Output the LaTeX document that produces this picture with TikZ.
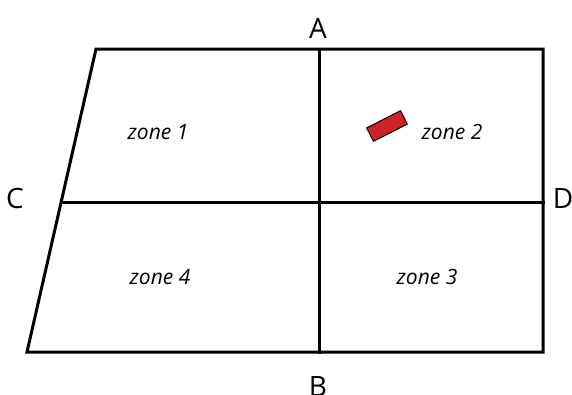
\documentclass[tikz,border=0pt]{standalone}
\usepackage{fontspec}
\setmainfont{Open Sans}
\begin{document}
\begin{tikzpicture}[x=1pt,y=-1pt,
  edge/.style={line width=3pt,line cap=rect},
  zonelabel/.style={font=\fontsize{21}{23}\selectfont\itshape},
  letter/.style={font=\fontsize{28}{30}\selectfont}]
\useasboundingbox (0,0) rectangle (572,394);
\coordinate (tl) at (96,49);
\coordinate (tr) at (543,49);
\coordinate (br) at (543,352);
\coordinate (bl) at (27,352);
\coordinate (mt) at (319,49);
\coordinate (mb) at (319,352);
\coordinate (ml) at (61.2,202);
\coordinate (mr) at (543,202);
\draw[edge,line join=miter] (tl) -- (tr) -- (br) -- (bl) -- cycle;
\draw[edge] (mt) -- (mb);
\draw[edge] (ml) -- (mr);
\node[letter] (A) at (318,28) {A};
\node[letter] (B) at (318,386) {B};
\node[letter] (C) at (15,198) {C};
\node[letter] (D) at (563,199) {D};
\node[zonelabel] (z1) at (158,132) {zone 1};
\node[zonelabel] (z2) at (452,132) {zone 2};
\node[zonelabel] (z4) at (160,277) {zone 4};
\node[zonelabel] (z3) at (427,277) {zone 3};
\node[draw=black,line width=1pt,fill={rgb,255:red,204;green,34;blue,41},minimum width=38pt,minimum height=15pt,rotate=27,inner sep=0pt] (rect) at (387,126) {};
\end{tikzpicture}
\end{document}
